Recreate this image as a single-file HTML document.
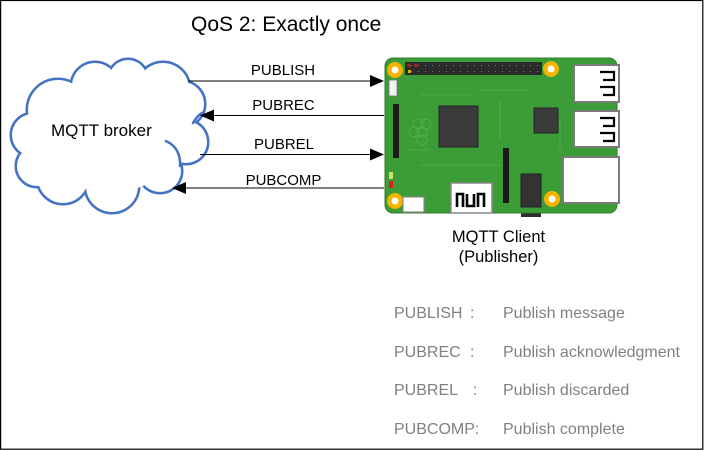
<!DOCTYPE html>
<html>
<head>
<meta charset="utf-8">
<style>
html,body{margin:0;padding:0;background:#fff;}
svg{display:block;}
text{font-family:"Liberation Sans",Arial,sans-serif;}
</style>
</head>
<body>
<svg width="704" height="450" viewBox="0 0 704 450" xmlns="http://www.w3.org/2000/svg">
<rect x="0" y="0" width="704" height="450" fill="#fff"/>
<rect x="0.6" y="0.5" width="702.2" height="448.7" fill="none" stroke="#000" stroke-width="1.2"/>

<!-- Title -->
<text x="191" y="31" font-size="21" fill="#000">QoS 2: Exactly once</text>

<!-- Cloud -->
<g fill="#fff" stroke="#4472C4" stroke-width="5">
  <circle cx="33" cy="135" r="21"/>
  <circle cx="58" cy="110" r="30"/>
  <circle cx="95" cy="86" r="23"/>
  <circle cx="128" cy="79" r="19"/>
  <circle cx="163" cy="89" r="26"/>
  <circle cx="182" cy="104" r="22"/>
  <circle cx="186" cy="142" r="21"/>
  <circle cx="160" cy="171" r="21"/>
  <circle cx="112" cy="186" r="26"/>
  <circle cx="63" cy="178" r="25"/>
  <circle cx="37" cy="166" r="20"/>
</g>
<g fill="#fff" stroke="none">
  <circle cx="33" cy="135" r="21"/>
  <circle cx="58" cy="110" r="30"/>
  <circle cx="95" cy="86" r="23"/>
  <circle cx="128" cy="79" r="19"/>
  <circle cx="163" cy="89" r="26"/>
  <circle cx="182" cy="104" r="22"/>
  <circle cx="186" cy="142" r="21"/>
  <circle cx="160" cy="171" r="21"/>
  <circle cx="112" cy="186" r="26"/>
  <circle cx="63" cy="178" r="25"/>
  <circle cx="37" cy="166" r="20"/>
  <ellipse cx="110" cy="137" rx="72" ry="55"/>
</g>
<g fill="none" stroke="#4472C4" stroke-width="2.5" stroke-linecap="round">
  <path d="M166 141 Q181 148 180 166"/>
  <path d="M193 123 Q197 116 202 113"/>
</g>
<text x="51" y="136" font-size="17" fill="#000">MQTT broker</text>

<!-- Arrows -->
<g stroke="#000" stroke-width="1.1">
  <line x1="188" y1="81" x2="372" y2="81"/>
  <line x1="384" y1="115.5" x2="212" y2="115.5"/>
  <line x1="200" y1="154.5" x2="372" y2="154.5"/>
  <line x1="384" y1="188" x2="184" y2="188"/>
</g>
<g fill="#000">
  <polygon points="370,75 384,81 370,87"/>
  <polygon points="214,109.5 200,115.5 214,121.5"/>
  <polygon points="370,148.5 384,154.5 370,160.5"/>
  <polygon points="186,182 172,188 186,194"/>
</g>
<g font-size="15" fill="#000" text-anchor="middle">
  <text x="283" y="75">PUBLISH</text>
  <text x="283.5" y="110">PUBREC</text>
  <text x="284" y="149">PUBREL</text>
  <text x="283.5" y="185">PUBCOMP</text>
</g>

<!-- Raspberry Pi board -->
<g>
  <rect x="521" y="174" width="20" height="43" fill="#2e2e2e"/>
  <rect x="385" y="58" width="232" height="155" rx="8" fill="#3c9c37" stroke="#2f7d2b" stroke-width="1"/>
  <!-- faint texture -->
  <g fill="none" stroke="#56b24d" stroke-width="1" opacity="0.8">
    <path d="M420 95 H470 M480 90 H530 M420 165 H500 M560 120 V150 M410 150 H430 M500 100 V140"/>
    <circle cx="418" cy="124" r="5"/><circle cx="426" cy="124" r="5"/><circle cx="422" cy="132" r="5"/><circle cx="414" cy="132" r="5"/><circle cx="422" cy="140" r="5"/>
  </g>
  <!-- mounting holes -->
  <g fill="#f4b400">
    <circle cx="395" cy="70" r="8"/>
    <circle cx="551" cy="69" r="8"/>
    <circle cx="395" cy="201" r="8"/>
    <circle cx="552" cy="199" r="8"/>
  </g>
  <g fill="#fff">
    <circle cx="395" cy="70" r="3.5"/>
    <circle cx="551" cy="69" r="3.5"/>
    <circle cx="395" cy="201" r="3.5"/>
    <circle cx="552" cy="199" r="3.5"/>
  </g>
  <!-- GPIO header -->
  <rect x="405" y="62" width="137" height="13" fill="#2b2b2b"/>
  <g fill="none" stroke="#8a8a8a" stroke-width="0.8">
    <path d="M411 65.5 h1 M418 65.5 h1 M425 65.5 h1 M432 65.5 h1 M439 65.5 h1 M446 65.5 h1 M453 65.5 h1 M460 65.5 h1 M467 65.5 h1 M474 65.5 h1 M481 65.5 h1 M488 65.5 h1 M495 65.5 h1 M502 65.5 h1 M509 65.5 h1 M516 65.5 h1 M523 65.5 h1 M530 65.5 h1 M537 65.5 h1"/>
    <path d="M411 71.5 h1 M418 71.5 h1 M425 71.5 h1 M432 71.5 h1 M439 71.5 h1 M446 71.5 h1 M453 71.5 h1 M460 71.5 h1 M467 71.5 h1 M474 71.5 h1 M481 71.5 h1 M488 71.5 h1 M495 71.5 h1 M502 71.5 h1 M509 71.5 h1 M516 71.5 h1 M523 71.5 h1 M530 71.5 h1 M537 71.5 h1"/>
  </g>
  <circle cx="409" cy="65.5" r="1.8" fill="#b02020"/>
  <circle cx="416" cy="65.5" r="1.8" fill="#b02020"/>
  <rect x="408" y="70" width="3" height="3" fill="#d4b000"/>
  <!-- small white connector -->
  <rect x="389" y="80" width="8" height="16" fill="#f2f2f2" stroke="#777" stroke-width="0.8"/>
  <!-- display connector -->
  <rect x="393" y="104" width="6" height="54" fill="#1b1b1b"/>
  <!-- chips -->
  <rect x="439" y="106" width="39" height="41" fill="#3b3b3b" stroke="#262626" stroke-width="1"/>
  <rect x="534" y="108" width="24" height="25" fill="#3b3b3b" stroke="#262626" stroke-width="1"/>
  <!-- camera connector -->
  <rect x="503" y="148" width="6" height="55" fill="#1b1b1b"/>
  <!-- audio jack -->
  <rect x="521" y="174" width="20" height="33" fill="#333" stroke="#222" stroke-width="1"/>
  <!-- HDMI -->
  <rect x="451" y="183" width="41" height="30" fill="#fff" stroke="#8a8a8a" stroke-width="1.5"/>
  <path d="M457 207 V194 H463 V207 M467 194 V206 H474 V194 M478 207 V194 H484 V207" fill="none" stroke="#000" stroke-width="2.6"/>
  <!-- power -->
  <rect x="403" y="197" width="21" height="15" fill="#fff" stroke="#8a8a8a" stroke-width="1.2"/>
  <!-- LEDs -->
  <rect x="389" y="172" width="4" height="7" fill="#c8e06c"/>
  <rect x="389" y="181" width="4" height="7" fill="#e02020"/>
  <!-- USB ports -->
  <rect x="574" y="65" width="45" height="37" fill="#fff" stroke="#7a7a7a" stroke-width="2"/>
  <rect x="574" y="111" width="45" height="36" fill="#fff" stroke="#7a7a7a" stroke-width="2"/>
  <path d="M600 72 H614 V80 H603 M600 87 H614 V95 H603 M600 118 H614 V126 H603 M600 133 H614 V141 H603" fill="none" stroke="#000" stroke-width="2.2"/>
  <!-- Ethernet -->
  <rect x="563" y="157" width="56" height="46" fill="#fff" stroke="#7a7a7a" stroke-width="2"/>
</g>

<!-- Client label -->
<g font-size="16.5" fill="#000" text-anchor="middle">
  <text x="498.5" y="242">MQTT Client</text>
  <text x="498.5" y="262">(Publisher)</text>
</g>

<!-- Legend -->
<g font-size="16" fill="#808080">
  <text x="394" y="318">PUBLISH</text><text x="470" y="318">:</text><text x="503" y="318">Publish message</text>
  <text x="394" y="357">PUBREC</text><text x="470" y="357">:</text><text x="503" y="357">Publish acknowledgment</text>
  <text x="394" y="395">PUBREL</text><text x="473" y="395">:</text><text x="503" y="395">Publish discarded</text>
  <text x="394" y="434">PUBCOMP:</text><text x="503" y="434">Publish complete</text>
</g>
</svg>
</body>
</html>
